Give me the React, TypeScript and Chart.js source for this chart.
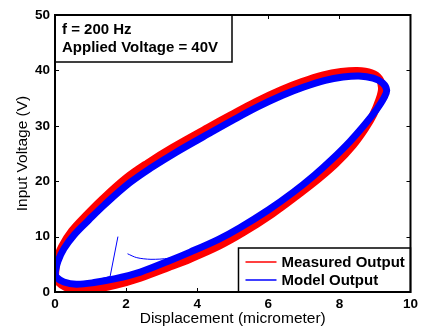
import React, { useEffect, useRef } from "react";
import { Chart, registerables } from "chart.js";
Chart.register(...registerables);

const xTicks = [0, 2, 4, 6, 8, 10];
const yTicks = [0, 10, 20, 30, 40, 50];

const measuredX = [0, 0.04, 0.2, 0.48, 0.88, 1.3, 2.0, 2.6, 3.3, 4.3, 4.95, 5.65, 6.35, 6.95, 7.55, 8.05, 8.5, 8.9, 9.12, 9.2,
  9.12, 8.95, 8.72, 8.38, 7.9, 7.4, 6.8, 6.1, 5.3, 4.6, 3.8, 3.2, 2.4, 1.7, 1.1, 0.6, 0.3, 0.08, 0];
const measuredY = [3.0, 5.5, 8.2, 11.0, 13.8, 16.5, 20.5, 23.2, 26.0, 29.6, 31.9, 34.3, 36.4, 37.9, 39.1, 39.7, 39.9, 39.5, 38.5, 36.8,
  34.6, 32.0, 29.5, 26.5, 23.2, 20.4, 17.4, 14.1, 10.8, 8.3, 6.0, 4.5, 2.6, 1.3, 0.6, 0.5, 0.9, 1.9, 3.0];

const modelX = [0, 0.08, 0.25, 0.55, 0.95, 1.4, 2.1, 2.7, 3.4, 4.36, 5.0, 5.7, 6.4, 7.0, 7.6, 8.1, 8.55, 8.95, 9.22, 9.33,
  9.25, 9.05, 8.75, 8.3, 7.8, 7.3, 6.7, 6.0, 5.2, 4.6, 3.8, 3.2, 2.4, 1.7, 1.1, 0.6, 0.25, 0.05, 0];
const modelY = [3.4, 5.5, 7.8, 10.4, 13.0, 15.8, 19.7, 22.4, 25.2, 28.7, 31.0, 33.4, 35.5, 37.0, 38.2, 38.8, 39.0, 38.6, 37.7, 36.4,
  35.0, 33.0, 30.5, 27.2, 24.0, 21.1, 18.0, 14.8, 11.6, 9.5, 7.2, 5.6, 3.6, 2.4, 1.7, 1.4, 1.8, 2.6, 3.4];

const transientAX = [1.2, 1.3, 1.55, 1.77];
const transientAY = [2.0, 2.4, 2.8, 10.0];
const transientBX = [2.04, 2.3, 2.7, 3.2, 3.6];
const transientBY = [6.9, 6.2, 5.9, 6.1, 6.8];

const annotationLines = ["f = 200 Hz", "Applied Voltage = 40V"];
const legendLabels = ["Measured Output", "Model Output"];
const seriesColors = ["#ff0000", "#0000ff"];

const FONT = "'Liberation Sans', Arial, Helvetica, sans-serif";

const zip = (xs: number[], ys: number[]) => xs.map((x, i) => ({ x, y: ys[i] }));

const boxPlugin = {
  id: "matlabBox",
  afterDraw(chart: any) {
    const { ctx, chartArea: a, scales } = chart;
    const xs = scales.x;
    const ys = scales.y;
    ctx.save();
    ctx.strokeStyle = "#000";
    ctx.lineWidth = 1;
    ctx.beginPath();
    const tl = 4;
    xTicks.forEach((v) => {
      const p = Math.round(xs.getPixelForValue(v)) + 0.5;
      ctx.moveTo(p, a.bottom);
      ctx.lineTo(p, a.bottom - tl);
      ctx.moveTo(p, a.top);
      ctx.lineTo(p, a.top + tl);
    });
    yTicks.forEach((v) => {
      const p = Math.round(ys.getPixelForValue(v)) + 0.5;
      ctx.moveTo(a.left, p);
      ctx.lineTo(a.left + tl, p);
      ctx.moveTo(a.right, p);
      ctx.lineTo(a.right - tl, p);
    });
    ctx.stroke();

    // annotation box
    const bx = a.left, by = a.top, bw = 177, bh = 47;
    ctx.fillStyle = "#fff";
    ctx.fillRect(bx, by, bw, bh);
    ctx.lineWidth = 1.5;
    ctx.strokeRect(bx, by, bw, bh);
    ctx.fillStyle = "#000";
    ctx.font = `bold 15px ${FONT}`;
    ctx.textAlign = "left";
    ctx.textBaseline = "alphabetic";
    ctx.fillText(annotationLines[0], bx + 7, by + 19);
    ctx.fillText(annotationLines[1], bx + 7, by + 36.5);

    // legend box
    const lw = 172, lh = 44;
    const lx = a.right - lw, ly = a.bottom - lh;
    ctx.fillStyle = "#fff";
    ctx.fillRect(lx, ly, lw, lh);
    ctx.lineWidth = 1.5;
    ctx.strokeStyle = "#000";
    ctx.strokeRect(lx, ly, lw, lh);
    const rows = [ly + 14, ly + 32];
    legendLabels.forEach((lab, i) => {
      ctx.strokeStyle = seriesColors[i];
      ctx.lineWidth = 1.5;
      ctx.beginPath();
      ctx.moveTo(lx + 7, rows[i]);
      ctx.lineTo(lx + 38, rows[i]);
      ctx.stroke();
      ctx.fillStyle = "#000";
      ctx.font = `bold 15px ${FONT}`;
      ctx.textBaseline = "middle";
      ctx.fillText(lab, lx + 43, rows[i] + 1);
    });

    // axes box
    ctx.strokeStyle = "#000";
    ctx.lineWidth = 2;
    ctx.strokeRect(a.left, a.top, a.right - a.left, a.bottom - a.top);
    ctx.restore();
  },
};

export default function App() {
  const ref = useRef<HTMLCanvasElement | null>(null);
  useEffect(() => {
    if (!ref.current) return;
    const chart = new Chart(ref.current, {
      type: "scatter",
      data: {
        datasets: [
          {
            label: legendLabels[1],
            data: zip(modelX, modelY),
            showLine: true,
            borderColor: seriesColors[1],
            borderWidth: 7,
            pointRadius: 0,
            tension: 0.35,
            order: 0,
          },
          {
            label: "transientA",
            data: zip(transientAX, transientAY),
            showLine: true,
            borderColor: seriesColors[1],
            borderWidth: 1,
            pointRadius: 0,
            tension: 0,
            order: 0,
          },
          {
            label: "transientB",
            data: zip(transientBX, transientBY),
            showLine: true,
            borderColor: seriesColors[1],
            borderWidth: 1,
            pointRadius: 0,
            tension: 0.3,
            order: 0,
          },
          {
            label: legendLabels[0],
            data: zip(measuredX, measuredY),
            showLine: true,
            borderColor: seriesColors[0],
            borderWidth: 8,
            pointRadius: 0,
            tension: 0.35,
            order: 1,
          },
        ],
      },
      options: {
        responsive: false,
        animation: false,
        devicePixelRatio: 1,
        layout: { padding: { top: 15, right: 9, left: 0, bottom: 0 } },
        plugins: { legend: { display: false }, tooltip: { enabled: false } },
        scales: {
          x: {
            type: "linear",
            min: 0,
            max: 10,
            afterFit: (s: any) => { s.height = 37; },
            afterBuildTicks: (s: any) => { s.ticks = xTicks.map((v) => ({ value: v })); },
            grid: { display: false, drawTicks: false },
            border: { display: false },
            ticks: { color: "#000", padding: 4, font: { family: FONT, size: 13.5, weight: "bold" }, maxRotation: 0 },
            title: { display: true, text: "Displacement (micrometer)", color: "#000", font: { family: FONT, size: 15.5, weight: "normal" }, padding: { top: 0, bottom: 1 } },
          },
          y: {
            type: "linear",
            min: 0,
            max: 50,
            afterFit: (s: any) => { s.width = 55; },
            afterBuildTicks: (s: any) => { s.ticks = yTicks.map((v) => ({ value: v })); },
            grid: { display: false, drawTicks: false },
            border: { display: false },
            ticks: { color: "#000", padding: 5, font: { family: FONT, size: 13.5, weight: "bold" } },
            title: { display: true, text: "Input Voltage (V)", color: "#000", font: { family: FONT, size: 15.5, weight: "normal" }, padding: { top: 13, bottom: 0 } },
          },
        },
      },
      plugins: [boxPlugin],
    } as any);
    return () => chart.destroy();
  }, []);
  return (
    <div style={{ position: "fixed", left: 0, top: 0, width: 422, height: 329, background: "#fff" }}>
      <canvas ref={ref} width={422} height={329} style={{ display: "block", width: 422, height: 329 }} />
    </div>
  );
}
